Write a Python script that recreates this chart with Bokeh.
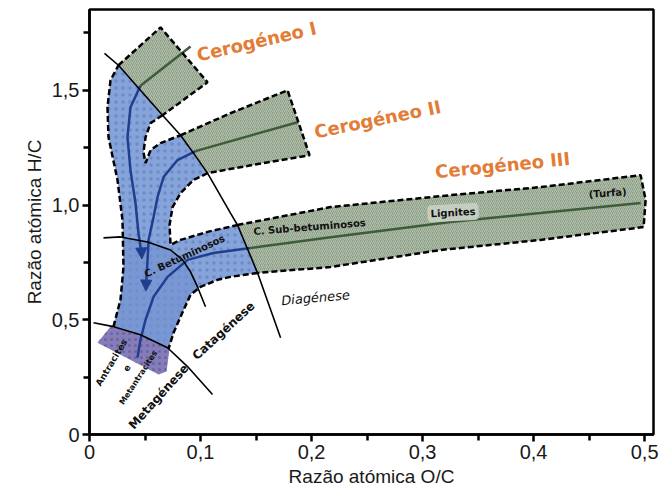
import math
from bokeh.plotting import figure
from bokeh.models import Range1d, FixedTicker, CustomJSTickFormatter, Arrow, NormalHead, Label
from bokeh.core.properties import value
from bokeh.embed import file_html
from bokeh.resources import INLINE

# ---------------- data (O/C , H/C) ----------------
x_ticks = [0, 0.1, 0.2, 0.3, 0.4, 0.5]
x_minor = [0.05, 0.15, 0.25, 0.35, 0.45]
y_ticks = [0, 0.5, 1.0, 1.5]
y_minor = [0.25, 0.75, 1.25, 1.75]

# boundary curves
diag_x = [0.0135, 0.0261, 0.0459, 0.0658, 0.0820, 0.0937, 0.1063, 0.1270, 0.1333, 0.1423, 0.1514, 0.1721]
diag_y = [1.661, 1.609, 1.500, 1.391, 1.304, 1.226, 1.139, 0.965, 0.913, 0.809, 0.704, 0.422]
cat_x = [0.0126, 0.0279, 0.0523, 0.0730, 0.0838, 0.0910, 0.0973, 0.1045]
cat_y = [0.857, 0.861, 0.839, 0.804, 0.761, 0.709, 0.643, 0.557]
meta_x = [0.0036, 0.0216, 0.0459, 0.0703, 0.0883, 0.1108]
meta_y = [0.487, 0.470, 0.435, 0.378, 0.296, 0.174]

# kerogen bands (green, diagenesis part)
k1_x = [0.0261, 0.0640, 0.1063, 0.0658, 0.0459]
k1_y = [1.609, 1.774, 1.535, 1.391, 1.500]
k2_x = [0.0820, 0.1270, 0.1784, 0.1982, 0.1568, 0.1063, 0.0937]
k2_y = [1.304, 1.400, 1.500, 1.217, 1.183, 1.139, 1.226]
k3_x = [0.1333, 0.2171, 0.3252, 0.4063, 0.4964, 0.5009, 0.4991, 0.4063, 0.3162, 0.2171, 0.1514, 0.1423]
k3_y = [0.913, 0.991, 1.043, 1.078, 1.130, 1.022, 0.904, 0.848, 0.804, 0.730, 0.704, 0.809]

# blue (catagenesis) region
blue_x = [0.0261, 0.0459, 0.0658, 0.0550, 0.0505, 0.0486, 0.0505, 0.0550, 0.0640, 0.0820, 0.0937, 0.1063,
          0.0937, 0.0820, 0.0748, 0.0721, 0.0730, 0.0820, 0.1063, 0.1333, 0.1423, 0.1514, 0.1270, 0.1153,
          0.1000, 0.0910, 0.0820, 0.0757, 0.0712, 0.0459, 0.0216, 0.0279, 0.0306, 0.0297, 0.0252, 0.0171,
          0.0162, 0.0189]
blue_y = [1.609, 1.500, 1.391, 1.357, 1.296, 1.230, 1.183, 1.239, 1.270, 1.304, 1.226, 1.139,
          1.109, 1.052, 0.991, 0.913, 0.826, 0.848, 0.883, 0.913, 0.809, 0.704, 0.687, 0.674,
          0.643, 0.609, 0.513, 0.443, 0.374, 0.435, 0.470, 0.587, 0.730, 0.935, 1.109, 1.296,
          1.426, 1.543]
dark_x = [0.0297, 0.0523, 0.0730, 0.0838, 0.0910, 0.0985, 0.0910, 0.0820, 0.0757, 0.0712, 0.0459, 0.0216, 0.0279, 0.0306]
dark_y = [0.857, 0.839, 0.804, 0.761, 0.709, 0.643, 0.609, 0.513, 0.443, 0.374, 0.435, 0.470, 0.587, 0.730]
vio_x = [0.0072, 0.0189, 0.0459, 0.0721, 0.0694, 0.0622]
vio_y = [0.400, 0.470, 0.435, 0.374, 0.274, 0.261]

# dashed outlines of the blue region
dash_xs = [
    [0.0216, 0.0279, 0.0306, 0.0297, 0.0252, 0.0171, 0.0162, 0.0189, 0.0261],
    [0.0658, 0.0550, 0.0505, 0.0486, 0.0505, 0.0550, 0.0640, 0.0820],
    [0.1063, 0.0937, 0.0820, 0.0748, 0.0721, 0.0730, 0.0820, 0.1063, 0.1333],
    [0.1514, 0.1270, 0.1153, 0.1000, 0.0910, 0.0820, 0.0757, 0.0712],
]
dash_ys = [
    [0.470, 0.587, 0.730, 0.935, 1.109, 1.296, 1.426, 1.543, 1.609],
    [1.391, 1.357, 1.296, 1.230, 1.183, 1.239, 1.270, 1.304],
    [1.139, 1.109, 1.052, 0.991, 0.913, 0.826, 0.848, 0.883, 0.913],
    [0.704, 0.687, 0.674, 0.643, 0.609, 0.513, 0.443, 0.374],
]

# evolution paths
k1c_x = [0.0459, 0.0910]
k1c_y = [1.520, 1.691]
k2c_x = [0.0955, 0.1874]
k2c_y = [1.235, 1.361]
k3c_x = [0.1450, 0.2171, 0.3252, 0.4063, 0.4964]
k3c_y = [0.813, 0.860, 0.926, 0.965, 1.009]
b1_x = [0.0459, 0.0369, 0.0342, 0.0369, 0.0414, 0.0441, 0.0468]
b1_y = [1.520, 1.426, 1.296, 1.152, 1.009, 0.878, 0.790]
b2_x = [0.0955, 0.0793, 0.0667, 0.0613, 0.0577, 0.0532, 0.0523, 0.0508]
b2_y = [1.235, 1.196, 1.122, 1.035, 0.948, 0.848, 0.761, 0.640]
b3_x = [0.1450, 0.1117, 0.0883, 0.0703, 0.0577, 0.0505, 0.0459, 0.0432]
b3_y = [0.813, 0.791, 0.761, 0.687, 0.600, 0.500, 0.413, 0.335]
arrow_x0 = [0.0468, 0.0510]
arrow_y0 = [0.800, 0.660]
arrow_x1 = [0.0472, 0.0508]
arrow_y1 = [0.765, 0.625]

# texts
ker_labels = ["Cerogéneo I", "Cerogéneo II", "Cerogéneo III"]
ker_lx = [0.1505, 0.2595, 0.3721]
ker_ly = [1.713, 1.374, 1.174]
ker_ang = [13.0, 11.5, 5.7]

small_labels = ["C. Sub-betuminosos", "(Turfa)", "C. Betuminosos", "Catagénese", "Metagénese",
                "Antracites", "e", "Metantracites"]
small_lx = [0.1982, 0.4667, 0.0856, 0.1207, 0.0622, 0.0198, 0.0333, 0.0441]
small_ly = [0.904, 1.052, 0.778, 0.452, 0.165, 0.313, 0.291, 0.248]
small_ang = [4.5, 4.0, 25.0, 42.5, 48.0, 59.0, 59.0, 57.0]
small_size = ["10px", "10px", "10px", "12px", "12px", "9px", "9px", "8px"]

# ---------------- figure ----------------
p = figure(width=661, height=489, x_range=Range1d(0, 0.508), y_range=Range1d(0, 1.852),
           output_backend="svg", toolbar_location=None,
           min_border_left=89, min_border_right=8, min_border_top=9, min_border_bottom=54)
p.xgrid.visible = False
p.ygrid.visible = False
p.outline_line_color = "black"
p.outline_line_width = 2.5
p.background_fill_color = "white"
p.border_fill_color = "white"

fmt = CustomJSTickFormatter(code="return tick == 0 ? '0' : tick.toFixed(1).replace('.', ',');")
p.xaxis.ticker = FixedTicker(ticks=x_ticks, minor_ticks=x_minor)
p.yaxis.ticker = FixedTicker(ticks=y_ticks, minor_ticks=y_minor)
p.xaxis.formatter = fmt
p.yaxis.formatter = fmt
p.xaxis.axis_label = "Razão atómica O/C"
p.yaxis.axis_label = "Razão atómica H/C"
for ax in (p.xaxis[0], p.yaxis[0]):
    ax.axis_line_width = 2.5
    ax.major_tick_line_width = 2.5
    ax.minor_tick_line_width = 2.5
    ax.major_tick_in = 0
    ax.major_tick_out = 7
    ax.minor_tick_in = 0
    ax.minor_tick_out = 6
    ax.major_label_text_font = "Liberation Sans"
    ax.major_label_text_font_size = "20px"
    ax.major_label_text_color = "#1a1a1a"
    ax.axis_label_text_font = "Liberation Sans"
    ax.axis_label_text_font_size = "19px"
    ax.axis_label_text_font_style = "normal"
    ax.axis_label_text_color = "#1a1a1a"
    ax.major_label_standoff = 3
    ax.axis_label_standoff = 4
p.yaxis.major_label_orientation = "horizontal"

GREEN = "#8C9E86"
GREEN_H = "#BAC6B4"
BLUE = "#86A4DA"
BLUE_D = "#7190CF"
DOTS = "#5A78B8"
NAVY = "#1F3F8E"
DKGREEN = "#3E5C3A"

# fills
for gx, gy in ((k1_x, k1_y), (k2_x, k2_y), (k3_x, k3_y)):
    p.patch(gx, gy, fill_color=GREEN, line_color=None,
            hatch_pattern="/", hatch_color=GREEN_H, hatch_scale=4, hatch_weight=1.0, hatch_alpha=0.9)
p.patch(blue_x, blue_y, fill_color=BLUE, line_color=None,
        hatch_pattern=".", hatch_color=DOTS, hatch_scale=7, hatch_weight=1, hatch_alpha=0.55)
p.patch(dark_x, dark_y, fill_color=BLUE_D, fill_alpha=0.6, line_color=None)
p.patch(vio_x, vio_y, fill_color="#857DBA", line_color=None,
        hatch_pattern=".", hatch_color="#5A5290", hatch_scale=6, hatch_weight=1, hatch_alpha=0.6)

# evolution lines
p.line(k1c_x, k1c_y, line_color=DKGREEN, line_width=2.5)
p.line(k2c_x, k2c_y, line_color=DKGREEN, line_width=2.5)
p.line(k3c_x, k3c_y, line_color=DKGREEN, line_width=2.5)
for bx, by in ((b1_x, b1_y), (b2_x, b2_y), (b3_x, b3_y)):
    p.line(bx, by, line_color=NAVY, line_width=2.5)
for i in range(len(arrow_x0)):
    p.add_layout(Arrow(end=NormalHead(size=11, fill_color=NAVY, line_color=NAVY),
                       x_start=arrow_x0[i], y_start=arrow_y0[i], x_end=arrow_x1[i], y_end=arrow_y1[i],
                       line_color=NAVY, line_width=2.5))

# dashed outlines
p.line(k1_x[:4], k1_y[:4], line_color="black", line_width=2.5, line_dash="6 3")
p.line(k2_x[:6], k2_y[:6], line_color="black", line_width=2.5, line_dash="6 3")
p.line(k3_x[:11], k3_y[:11], line_color="black", line_width=2.5, line_dash="6 3")
p.multi_line(dash_xs, dash_ys, line_color="black", line_width=2.5, line_dash="6 3")

# maturation boundaries
p.line(diag_x, diag_y, line_color="black", line_width=1.6)
p.line(cat_x, cat_y, line_color="black", line_width=1.6)
p.line(meta_x, meta_y, line_color="black", line_width=1.6)

# texts
p.text(ker_lx, ker_ly, text=ker_labels, angle=[math.radians(a) for a in ker_ang],
       text_font=value("DejaVu Sans"), text_font_size="18px", text_font_style="bold",
       text_color="#E27C36", text_align="center", text_baseline="middle")
p.text(small_lx, small_ly, text=small_labels, angle=[math.radians(a) for a in small_ang],
       text_font=value("DejaVu Sans"), text_font_size=small_size, text_font_style="bold",
       text_color="#111111", text_align="center", text_baseline="middle")
p.add_layout(Label(x=0.3275, y=0.967, text="Lignites", angle=math.radians(3),
                   text_font="DejaVu Sans", text_font_size="10px", text_font_style="bold",
                   text_color="#111111", text_align="center", text_baseline="middle",
                   background_fill_color="#C9D0C4", background_fill_alpha=0.9,
                   padding=3, border_radius=4))
p.add_layout(Label(x=0.2036, y=0.596, text="Diagénese", angle=math.radians(5),
                   text_font="DejaVu Sans", text_font_size="13px", text_font_style="italic",
                   text_color="#111111", text_align="center", text_baseline="middle"))

open("out.html", "w").write(file_html(p, INLINE))
